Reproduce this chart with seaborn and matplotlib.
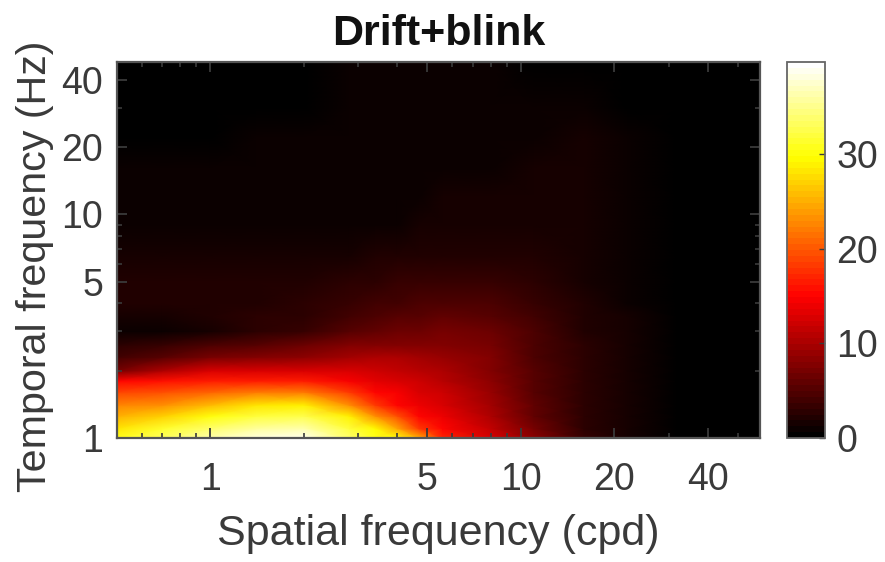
import numpy as np
import pandas as pd
import matplotlib.pyplot as plt
import seaborn as sns
from matplotlib.colors import LinearSegmentedColormap

# spatial frequency (cpd), one value per column
sf = [0.5, 0.7, 1, 1.4, 2, 2.8, 3.4, 4, 4.7, 5.6, 8, 11, 16, 22, 32, 45, 59]
# temporal frequency (Hz), one value per row, low to high
tf = [1, 1.1, 1.25, 1.4, 1.6, 1.8, 2, 2.3, 2.6, 3, 3.5, 4, 5, 6.5, 9, 12, 16, 22, 30, 48]
power = [
    [31, 33, 36, 38, 39, 34, 31, 30, 25, 17, 13, 8.2, 3.2, 1.4, 0.5, 0.3, 0.3],
    [28.5, 31.5, 33.5, 35.5, 36.5, 32, 29.5, 24.5, 18, 15.5, 11.5, 7.2, 3.1, 1.4, 0.5, 0.3, 0.3],
    [25, 27, 30, 32, 32.5, 29, 23.5, 19.5, 15, 14, 10.5, 6.2, 3.05, 1.4, 0.5, 0.3, 0.3],
    [22.5, 23.5, 25.5, 28, 29, 23.5, 18.5, 15.5, 14, 13, 9.5, 5.6, 3, 1.4, 0.5, 0.3, 0.3],
    [19, 19.5, 21, 22, 22, 18.5, 15.5, 14.5, 13, 12, 9, 5.3, 2.9, 1.4, 0.5, 0.3, 0.3],
    [15.5, 16, 16.5, 16.5, 16.5, 14.5, 13.5, 13, 12, 11, 8.5, 5.1, 2.8, 1.4, 0.5, 0.3, 0.3],
    [7, 10, 13, 13, 13, 12.5, 12, 11.5, 11, 10.5, 8, 5, 2.7, 1.4, 0.5, 0.3, 0.3],
    [4, 5.5, 7, 8, 8.5, 9.5, 10, 10, 9.5, 9, 7.5, 4.8, 2.6, 1.4, 0.5, 0.3, 0.3],
    [2.5, 3.5, 4.5, 5.5, 6.5, 7.5, 8, 8, 8, 8, 7, 4.6, 2.5, 1.4, 0.5, 0.3, 0.3],
    [0.8, 1, 1.5, 2.5, 3.5, 5, 6, 6.5, 6.8, 7, 6.3, 4.4, 2.3, 1.4, 0.5, 0.3, 0.3],
    [1.5, 1.5, 2, 2.5, 3, 4, 4.5, 5, 5.3, 5.6, 5.5, 3.9, 2.1, 1.3, 0.5, 0.3, 0.3],
    [2, 2, 2.2, 2.4, 2.8, 3.5, 3.9, 4.2, 4.5, 4.7, 4.6, 3.2, 1.9, 1.2, 0.5, 0.3, 0.3],
    [2, 2, 2, 2.1, 2.3, 2.6, 2.9, 3.2, 3.4, 3.6, 3.6, 2.5, 1.5, 1.1, 0.5, 0.3, 0.3],
    [1.3, 1.4, 1.5, 1.6, 1.6, 1.8, 2, 2.1, 2.2, 2.3, 2.3, 1.9, 1.3, 1, 0.5, 0.3, 0.3],
    [1, 1, 1, 1, 1.1, 1.2, 1.2, 1.2, 1.3, 1.4, 1.5, 1.4, 1.3, 0.9, 0.5, 0.3, 0.3],
    [0.8, 0.8, 0.8, 0.8, 0.8, 0.8, 0.9, 0.9, 0.9, 1.3, 1.4, 1.4, 1.3, 0.9, 0.5, 0.3, 0.3],
    [0.7, 0.7, 0.7, 0.7, 0.7, 0.7, 0.7, 0.7, 0.8, 1, 1.1, 1.3, 1.3, 0.8, 0.4, 0.3, 0.3],
    [0.6, 0.6, 0.6, 0.65, 0.65, 0.65, 0.7, 0.7, 0.7, 0.8, 0.9, 1, 1.3, 0.65, 0.4, 0.3, 0.3],
    [0.3, 0.3, 0.3, 0.4, 0.5, 0.7, 0.7, 0.7, 0.7, 0.7, 0.7, 0.7, 1, 0.5, 0.3, 0.3, 0.3],
    [0.2, 0.2, 0.2, 0.3, 0.4, 0.65, 0.7, 0.7, 0.7, 0.7, 0.7, 0.6, 0.5, 0.4, 0.3, 0.3, 0.3],
]

sf_ticks = [1, 5, 10, 20, 40]
sf_minor = [0.6, 0.7, 0.8, 0.9, 2, 3, 4, 6, 7, 8, 9, 30, 50]
tf_ticks = [1, 5, 10, 20, 40]
tf_minor = [2, 3, 4, 6, 7, 8, 9, 30]
cbar_ticks = [0, 10, 20, 30]
vmax = 39.7
ink = '#3a3a3a'

plt.rcParams['font.family'] = ['Liberation Sans', 'DejaVu Sans']
cmap = LinearSegmentedColormap.from_list(
    'hot0', [(0, 'black'), (0.375, 'red'), (0.75, 'yellow'), (1, 'white')], N=64)

df = pd.DataFrame(power, index=tf, columns=sf).iloc[::-1]
nrow, ncol = df.shape

fig = plt.figure(figsize=(8.85, 5.62), dpi=100)
ax = fig.add_axes([117 / 885, 1 - 438 / 562, 643 / 885, 376 / 562])
cax = fig.add_axes([787 / 885, 1 - 438 / 562, 38 / 885, 376 / 562])
sns.heatmap(df, ax=ax, cbar_ax=cax, cmap=cmap, vmin=0, vmax=vmax,
            xticklabels=False, yticklabels=False, cbar_kws={'ticks': cbar_ticks})


def xpos(f):
    return ncol * np.log(np.asarray(f, float) / sf[0]) / np.log(sf[-1] / sf[0])


def ypos(f):
    return nrow * (1 - np.log(np.asarray(f, float) / tf[0]) / np.log(tf[-1] / tf[0]))


# smooth surface on the log-spaced grid, heatmap cells are coarse
ax.pcolormesh(xpos(sf), ypos(tf), np.array(power), cmap=cmap, vmin=0, vmax=vmax, shading='gouraud')
ax.set_xlim(0, ncol)
ax.set_ylim(nrow, 0)

ax.set_xticks(xpos(sf_ticks))
ax.set_xticklabels(sf_ticks)
ax.set_xticks(xpos(sf_minor), minor=True)
ax.set_yticks(ypos(tf_ticks))
ax.set_yticklabels(tf_ticks, rotation=0)
ax.set_yticks(ypos(tf_minor), minor=True)
ax.tick_params(which='major', direction='in', length=7, width=1.3, color=ink, labelcolor=ink,
               labelsize=27, top=True, right=True)
ax.tick_params(axis='x', which='major', pad=17)
ax.tick_params(axis='y', which='major', pad=10)
ax.tick_params(which='minor', direction='in', length=3.5, width=1.2, color=ink, top=True, right=True)
for s in ax.spines.values():
    s.set_visible(True)
    s.set_color('#555555')
    s.set_linewidth(1.6)

ax.set_xlabel('Spatial frequency (cpd)', fontsize=31, color=ink, labelpad=12)
ax.set_ylabel('Temporal frequency (Hz)', fontsize=29.7, color=ink, labelpad=5, y=0.457)
ax.set_title('Drift+blink', fontsize=31, fontweight='bold', color='#111111', pad=12)

cb = ax.collections[0].colorbar
cb.outline.set_visible(True)
cb.outline.set_edgecolor('#666666')
cb.outline.set_linewidth(1.3)
cax.tick_params(direction='in', length=4, width=1, color=ink, labelcolor=ink, labelsize=27, pad=8)

plt.savefig('out.png', dpi=100)
